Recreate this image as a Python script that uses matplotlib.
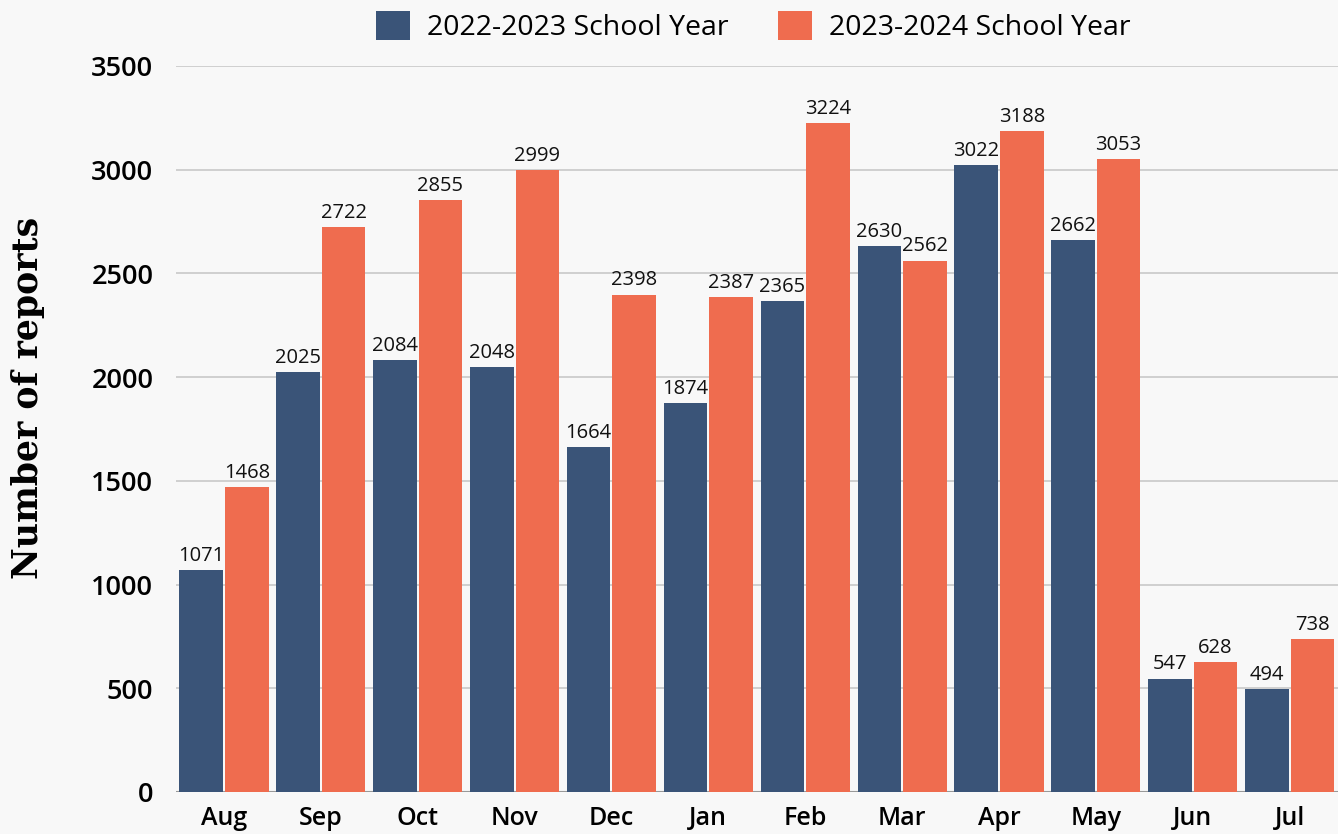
import matplotlib.pyplot as plt
import numpy as np

# months of the school year
months = ['Aug', 'Sep', 'Oct', 'Nov', 'Dec', 'Jan', 'Feb', 'Mar', 'Apr', 'May', 'Jun', 'Jul']

# number of reports per month
year_2022_2023 = [1071, 2025, 2084, 2048, 1664, 1874, 2365, 2630, 3022, 2662, 547, 494]
year_2023_2024 = [1468, 2722, 2855, 2999, 2398, 2387, 3224, 2562, 3188, 3053, 628, 738]

labels = ['2022-2023 School Year', '2023-2024 School Year']
navy = '#3a5478'
coral = '#ef6c4f'
bg = '#f8f8f8'

plt.rcParams['font.family'] = ['Open Sans', 'DejaVu Sans']

fig = plt.figure(figsize=(13.38, 8.34), dpi=100, facecolor=bg)
ax = fig.add_axes([0.1312, 0.0504, 0.8688, 0.8705])
ax.set_facecolor(bg)

x = np.arange(len(months))
w = 0.45
b1 = ax.bar(x - 0.235, year_2022_2023, w, color=navy, label=labels[0], zorder=3)
b2 = ax.bar(x + 0.235, year_2023_2024, w, color=coral, label=labels[1], zorder=3)

# value labels above bars
for bars in (b1, b2):
    ax.bar_label(bars, padding=3, fontsize=14.5, color='#111111', zorder=4)

ax.set_xlim(-0.5, 11.5)
ax.set_ylim(0, 3500)
ax.set_yticks(range(0, 3501, 500))
ax.set_xticks(x)
ax.set_xticklabels(months, fontsize=18, fontweight='semibold')
ax.tick_params(axis='y', labelsize=19.5, pad=16, length=0)
ax.tick_params(axis='x', pad=10, length=0)
for t in ax.get_yticklabels():
    t.set_fontweight('semibold')

ax.grid(axis='y', color='#cccccc', linewidth=1.3, zorder=0)
ax.axhline(0, color='#999999', linewidth=1.5, zorder=2)
for s in ax.spines.values():
    s.set_visible(False)

ax.set_ylabel('Number of reports', family='DejaVu Serif', fontweight='bold',
              fontsize=25)
ax.yaxis.set_label_coords(-0.112, 0.543)

fig.legend(loc='center', bbox_to_anchor=(0.563, 0.968), ncol=2, frameon=False,
           fontsize=20.5, handlelength=1.2, handleheight=1.2, columnspacing=1.75,
           handletextpad=0.6)

fig.savefig('out.png', dpi=100, facecolor=bg)
